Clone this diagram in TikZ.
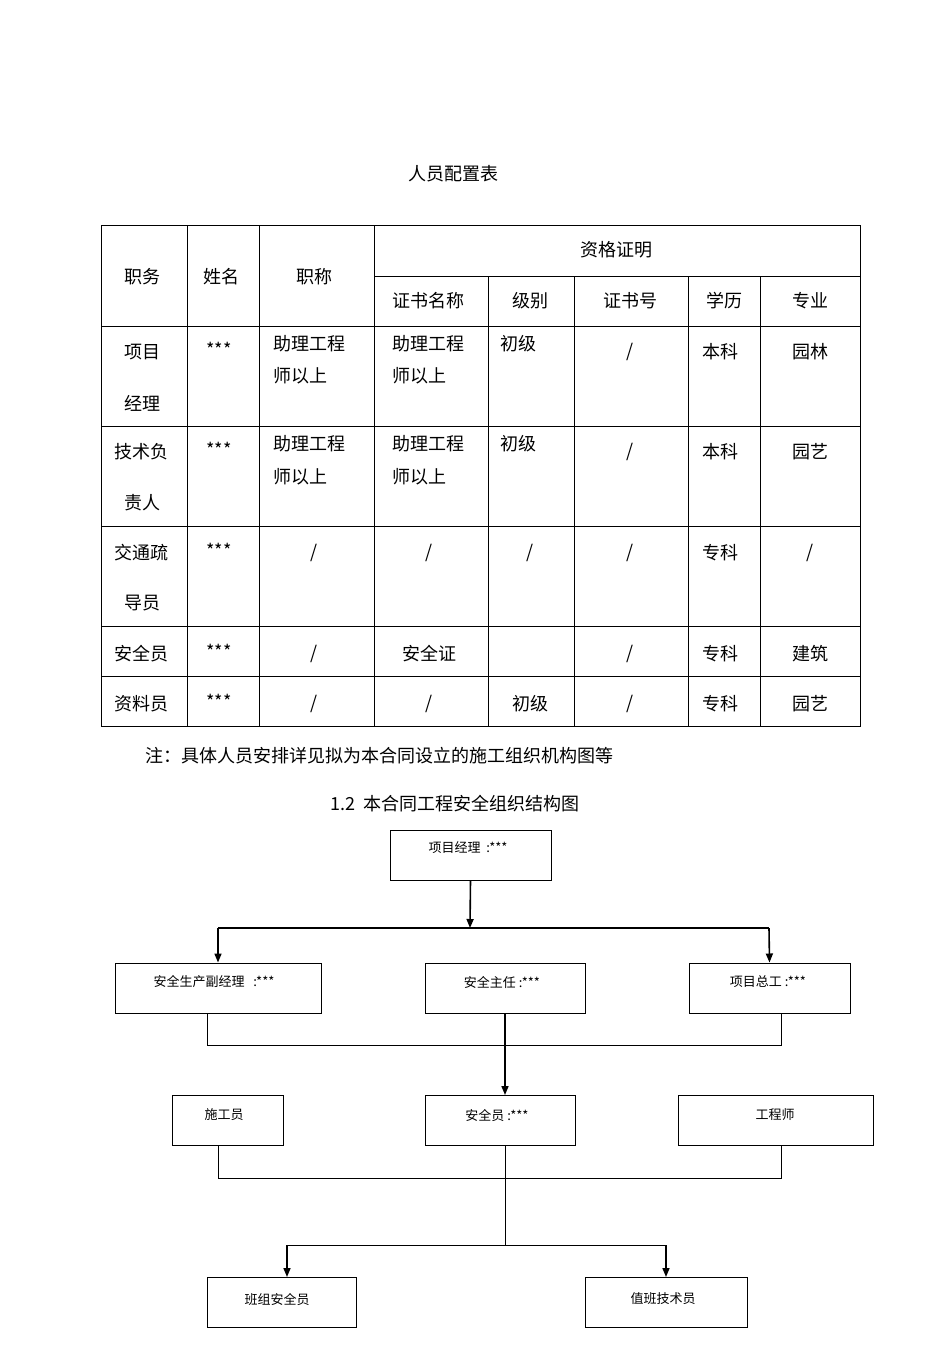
\documentclass[tikz,border=0pt]{standalone}
\usepackage{fontspec}
\setmainfont{Noto Sans CJK SC}
\usetikzlibrary{arrows.meta}
\begin{document}
\begin{tikzpicture}[x=1pt,y=-1pt,
  tt/.style={inner sep=0pt,font=\fontsize{18}{20}\selectfont},
  ct/.style={inner sep=0pt,font=\fontsize{13}{15}\selectfont},
  bx/.style={draw,line width=1pt,inner sep=0pt},
  ln/.style={line width=0.8pt},
  ar/.style={line width=1.6pt,-{Triangle[length=9pt,width=7pt]}}]
\useasboundingbox (0,0) rectangle (950,1345);
\node[tt] (title) at (453,174) {人员配置表};
% table grid
\draw[line width=0.8pt] (101,225) rectangle (860,726);
\foreach \y in {326,426,526,626,676} \draw[line width=0.8pt] (101,\y) -- (860,\y);
\draw[line width=0.8pt] (374,276) -- (860,276);
\foreach \x in {187,259,374} \draw[line width=0.8pt] (\x,225) -- (\x,726);
\foreach \x in {488,574,688,760} \draw[line width=0.8pt] (\x,276) -- (\x,726);
% header
\node[tt] (h1) at (142,277) {职务};
\node[tt] (h2) at (221,277) {姓名};
\node[tt] (h3) at (314,277) {职称};
\node[tt] (h4) at (616,250) {资格证明};
\node[tt] (h5) at (428,301) {证书名称};
\node[tt] (h6) at (530,301) {级别};
\node[tt] (h7) at (630,301) {证书号};
\node[tt] (h8) at (724,301) {学历};
\node[tt] (h9) at (810,301) {专业};
% row 1
\node[tt] (a1) at (142,352) {项目};
\node[tt] (a2) at (142,403) {经理};
\node[tt] (a3) at (219,349) {***};
\node[tt] (a4) at (309,344) {助理工程};
\node[tt] (a5) at (300,376) {师以上};
\node[tt] (a6) at (428,344) {助理工程};
\node[tt] (a7) at (419,376) {师以上};
\node[tt] (a8) at (518,344) {初级};
\node[tt] (a9) at (630,352) {/};
\node[tt] (a10) at (720,352) {本科};
\node[tt] (a11) at (810,352) {园林};
% row 2
\node[tt] (b1) at (141,452) {技术负};
\node[tt] (b2) at (142,503) {责人};
\node[tt] (b3) at (219,449) {***};
\node[tt] (b4) at (309,444) {助理工程};
\node[tt] (b5) at (300,477) {师以上};
\node[tt] (b6) at (428,444) {助理工程};
\node[tt] (b7) at (419,477) {师以上};
\node[tt] (b8) at (518,444) {初级};
\node[tt] (b9) at (630,452) {/};
\node[tt] (b10) at (720,452) {本科};
\node[tt] (b11) at (810,452) {园艺};
% row 3
\node[tt] (c1) at (141,553) {交通疏};
\node[tt] (c2) at (142,603) {导员};
\node[tt] (c3) at (219,550) {***};
\node[tt] (c4) at (314,553) {/};
\node[tt] (c5) at (429,553) {/};
\node[tt] (c6) at (530,553) {/};
\node[tt] (c7) at (630,553) {/};
\node[tt] (c8) at (720,553) {专科};
\node[tt] (c9) at (810,553) {/};
% row 4
\node[tt] (d1) at (141,654) {安全员};
\node[tt] (d3) at (219,651) {***};
\node[tt] (d4) at (314,654) {/};
\node[tt] (d5) at (429,654) {安全证};
\node[tt] (d7) at (630,654) {/};
\node[tt] (d8) at (720,654) {专科};
\node[tt] (d9) at (810,654) {建筑};
% row 5
\node[tt] (e1) at (141,704) {资料员};
\node[tt] (e3) at (219,701) {***};
\node[tt] (e4) at (314,704) {/};
\node[tt] (e5) at (429,704) {/};
\node[tt] (e6) at (530,704) {初级};
\node[tt] (e7) at (630,704) {/};
\node[tt] (e8) at (720,704) {专科};
\node[tt] (e9) at (810,704) {园艺};
\node[tt,anchor=west] (note) at (145,756) {注：具体人员安排详见拟为本合同设立的施工组织机构图等};
\node[tt] (title2) at (455,804) {1.2\ \ 本合同工程安全组织结构图};
% org chart boxes
\node[bx,minimum width=161pt,minimum height=50pt] (pm) at (470.5,855) {};
\node[ct] at (468,848) {项目经理\ \ :***};
\node[bx,minimum width=206pt,minimum height=50pt] (fj) at (218,988) {};
\node[ct] at (214,982) {安全生产副经理\ \ \ :***};
\node[bx,minimum width=160pt,minimum height=50pt] (zr) at (505,988) {};
\node[ct] at (502,982) {安全主任\ :***};
\node[bx,minimum width=161pt,minimum height=50pt] (zg) at (769.5,988) {};
\node[ct] at (768,982) {项目总工\ :***};
\node[bx,minimum width=111pt,minimum height=50pt] (sg) at (227.5,1120) {};
\node[ct] at (224,1115) {施工员};
\node[bx,minimum width=150pt,minimum height=50pt] (aq) at (500,1120) {};
\node[ct] at (497,1115) {安全员\ :***};
\node[bx,minimum width=195pt,minimum height=50pt] (gc) at (775.5,1120) {};
\node[ct] at (775,1115) {工程师};
\node[bx,minimum width=149pt,minimum height=50pt] (bz) at (281.5,1302.5) {};
\node[ct] at (277,1299) {班组安全员};
\node[bx,minimum width=162pt,minimum height=50pt] (zb) at (666,1302.5) {};
\node[ct] at (663,1299) {值班技术员};
% connectors
\coordinate (j1) at (470,928);
\coordinate (j2) at (505,1245);
\draw[ar] (pm.south) -- (j1);
\draw[line width=1.6pt] (218,928) -- (769,928);
\draw[ar] (218,928) -- (fj.north);
\draw[ar] (769,928) -- (zg.north);
\draw[ln] (207,1013) |- (781,1045) -- (781,1013);
\draw[ar] (zr.south) -- (505,1095);
\draw[ln] (218,1145) |- (781,1178) -- (781,1145);
\draw[ln] (505,1145) -- (j2);
\draw[ln] (287,1245) -- (666,1245);
\draw[ar] (287,1245) -- (bz.north -| 287,0);
\draw[ar] (666,1245) -- (zb.north);
\end{tikzpicture}
\end{document}
